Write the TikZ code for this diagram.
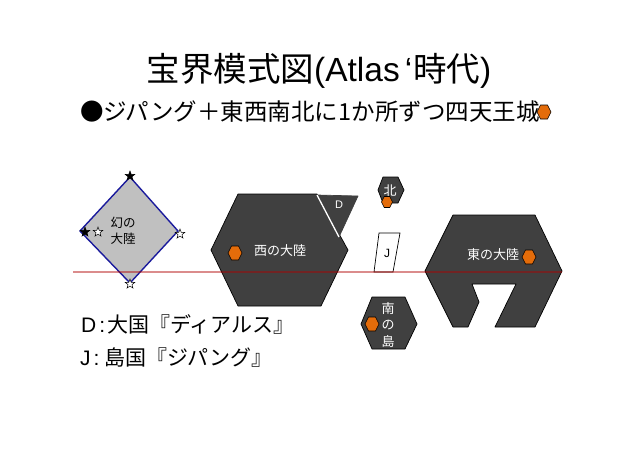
\documentclass[tikz,border=0pt]{standalone}
\usepackage{fontspec}
\setmainfont{Noto Sans CJK JP}
\newfontfamily\latinfont{Liberation Sans}
\usetikzlibrary{shapes.geometric}
\definecolor{landgray}{HTML}{404040}
\definecolor{phantomgray}{HTML}{C0C0C0}
\definecolor{phantomblue}{HTML}{1A1A9C}
\definecolor{castleorange}{HTML}{E46C0A}
\definecolor{equatorred}{RGB}{175,0,0}

\begin{document}
\begin{tikzpicture}[
      x = 1pt, y = -1pt,
      land/.style    = {draw = black, fill = landgray, line width = .7pt, line join = round},
      phantom/.style = {draw = phantomblue, fill = phantomgray, line width = 1.4pt},
      castle/.style  = {draw = black, fill = castleorange, line width = .6pt},
      seam/.style    = {draw = white, line width = 1.3pt},
      equator/.style = {draw = equatorred, line width = 1.2pt, opacity = .45},
      head/.style    = {inner sep = 0pt, font = \fontsize{33.5}{36}\selectfont},
      sub/.style     = {inner sep = 0pt, anchor = west, font = \fontsize{23.5}{26}\selectfont},
      legend/.style  = {inner sep = 0pt, anchor = west, font = \fontsize{21}{24}\selectfont},
      lab/.style     = {inner sep = 0pt, text = white, align = center, font = \fontsize{13}{16.5}\selectfont},
      labdark/.style = {lab, text = black},
      sstar/.style   = {star, star points = 5, star point ratio = 2.4, inner sep = 0pt, minimum size = 10pt, draw = black, line width = .5pt},
      bstar/.style   = {sstar, fill = black},
      wstar/.style   = {sstar, fill = white}
    ]
  \useasboundingbox (0,0) rectangle (636,450);

  % ---------- headings ---------------------------------------------------
  \node[head] (title) at (319,71) {宝界模式図{\latinfont(Atlas\hspace{5pt}‘}\hspace{1pt}時代{\latinfont)}};
  \node[sub] (subtitle) at (80,112) {●ジパング＋東西南北に1か所ずつ四天王城};

  % ---------- phantom continent ------------------------------------------
  \draw[phantom] (130,177) -- (178,231) -- (130,283) -- (80,231) -- cycle;
  \node[labdark, font = \fontsize{12.5}{16.5}\selectfont] (phantomlab) at (123,231) {幻の\\大陸};
  \node[bstar] (starN) at (130,176) {};
  \node[bstar] (starW) at (85,232) {};
  \node[wstar] (starWb) at (98,232) {};
  \node[wstar] (starE) at (180,234) {};
  \node[wstar] (starS) at (130,284) {};

  % ---------- west continent and D ----------------------------------------
  \draw[land] (238,194) -- (317,194) -- (348,250) -- (321,306) -- (238,306) -- (211,250) -- cycle;
  \draw[land, draw = landgray] (317,195) -- (358,196) -- (339,237) -- cycle;
  \draw[seam] (317,195) -- (339,237);
  \node[lab] (westlab) at (280,251) {西の大陸};
  \node[lab, font = \latinfont\fontsize{11}{13}\selectfont] (dlab) at (339,205) {D};

  % ---------- small islands -----------------------------------------------
  \draw[land] (383,177) -- (398,177) -- (404,190) -- (398,203) -- (383,203) -- (378,190) -- cycle;
  \node[lab] (northlab) at (390,191) {北};

  \draw[draw = black, fill = white, line width = .7pt] (379,233) -- (400,233) -- (393,272) -- (374,272) -- cycle;
  \node[labdark, font = \latinfont\fontsize{12}{14}\selectfont] (jlab) at (387,253) {J};

  \draw[land] (372,297) -- (405,297) -- (417,324) -- (405,349) -- (372,349) -- (361,324) -- cycle;
  \node[lab] (southlab) at (388,325) {南\\の\\島};

  % ---------- east continent ----------------------------------------------
  \draw[land] (453,215) -- (535,215) -- (562,271) -- (535,327) -- (495,327) -- (516,284)
     -- (472,284) -- (479,302) -- (468,327) -- (453,327) -- (425,271) -- cycle;
  \node[lab] (eastlab) at (493,255) {東の大陸};

  % ---------- castles -----------------------------------------------------
  \foreach \x/\y/\r in {544/112/7, 235/253/7, 529/257/7, 372/324/7, 387/202/5.5}
    \draw[castle] (\x-\r,\y) -- (\x-\r/2,\y-\r) -- (\x+\r/2,\y-\r) -- (\x+\r,\y)
       -- (\x+\r/2,\y+\r) -- (\x-\r/2,\y+\r) -- cycle;

  % ---------- equator and legend ------------------------------------------
  \coordinate (eqL) at (73,272);
  \coordinate (eqR) at (562,272);
  \draw[equator] (eqL) -- (eqR);

  \node[legend] (legendD) at (81,324) {{\latinfont D\hspace{3pt}:\hspace{2pt}}大国『ディアルス』};
  \node[legend] (legendJ) at (80,358) {{\latinfont J\hspace{3pt}:\hspace{5pt}}島国『ジパング』};

  \end{tikzpicture}
\end{document}
